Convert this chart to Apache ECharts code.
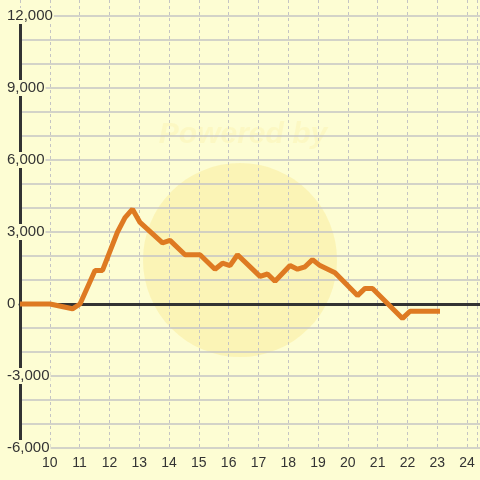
<!DOCTYPE html>
<html>
<head>
<meta charset="utf-8">
<script src="https://cdn.jsdelivr.net/npm/echarts@6/dist/echarts.min.js"></script>
<style>
  html, body { margin: 0; padding: 0; background: #fdfdd3; }
  #chart { width: 480px; height: 480px; }
</style>
</head>
<body>
<div id="chart"></div>
<script>
// hour of day
var hours = [9, 10, 10.75, 11, 11.5, 11.75, 12.25, 12.5, 12.75, 13, 13.75, 14, 14.5, 15, 15.5, 15.75, 16, 16.25,
  17, 17.25, 17.5, 18, 18.25, 18.5, 18.75, 19, 19.5, 20.25, 20.5, 20.75, 21.75, 22, 23]
var values = [0, 0, -200, 0, 1400, 1400, 3000, 3600, 3950, 3400, 2550, 2650, 2050, 2050, 1450, 1700, 1600, 2050,
  1150, 1250, 950, 1600, 1450, 1550, 1850, 1600, 1300, 350, 650, 650, -600, -300, -300]
var yTicks = [-6000, -3000, 0, 3000, 6000, 9000, 12000]
var xTicks = [10, 11, 12, 13, 14, 15, 16, 17, 18, 19, 20, 21, 22, 23, 24]

var bg = '#fdfdd3'
var points = hours.map(function (h, i) { return [h, values[i]] })

var chart = echarts.init(document.getElementById('chart'))

var options = {
  backgroundColor: bg,
  animation: false,
  // watermark
  graphic: [
    { type: 'circle', z: -1, shape: { cx: 240, cy: 260, r: 97 }, style: { fill: 'rgba(250,226,120,0.32)' } },
    { type: 'text', z: -1, x: 243, y: 135, style: { text: 'Powered by', font: 'italic bold 30px "Liberation Sans"',
      fill: 'rgba(250,232,140,0.22)', align: 'center', verticalAlign: 'middle' } }
  ],
  grid: [
    { left: 20, right: 0, top: 0, bottom: 32 },
    { left: 20, right: 0, top: 16, bottom: 32 }
  ],
  xAxis: [
    {
      gridIndex: 0, type: 'value', min: 9, max: 24.333, interval: 1,
      axisLine: { show: false }, axisTick: { show: false },
      axisLabel: {
        margin: 8, fontSize: 14, color: '#333', fontFamily: 'Liberation Sans',
        formatter: function (v) { return xTicks.indexOf(v) >= 0 ? String(v) : '' }
      },
      splitLine: { lineStyle: { color: '#c4c4c4', type: [3, 3], width: 1 } }
    },
    {
      gridIndex: 1, type: 'value', min: 9, max: 24.333, z: 1,
      axisLine: { onZero: true, lineStyle: { color: '#333', width: 3 } },
      axisTick: { show: false }, axisLabel: { show: false }, splitLine: { show: false }
    }
  ],
  yAxis: [
    { gridIndex: 0, show: false, min: 0, max: 1 },
    {
      gridIndex: 1, type: 'value', min: -6000, max: 12000, interval: 1000,
      axisLine: { show: true, lineStyle: { color: '#333', width: 3 } },
      axisTick: { show: false },
      axisLabel: {
        align: 'left', margin: 14, fontSize: 15, color: '#333', fontFamily: 'Liberation Sans',
        backgroundColor: bg, padding: [1, 1, 0, 1],
        formatter: function (v) { return yTicks.indexOf(v) >= 0 ? v.toLocaleString('en-US') : '' }
      },
      splitLine: { lineStyle: { color: '#c4c4c4', width: 1.5 } }
    }
  ],
  series: [
    {
      type: 'line', xAxisIndex: 1, yAxisIndex: 1,
      data: points,
      showSymbol: false,
      lineStyle: { color: '#de7a22', width: 5 }
    }
  ]
}

chart.setOption(options)
</script>
</body>
</html>
